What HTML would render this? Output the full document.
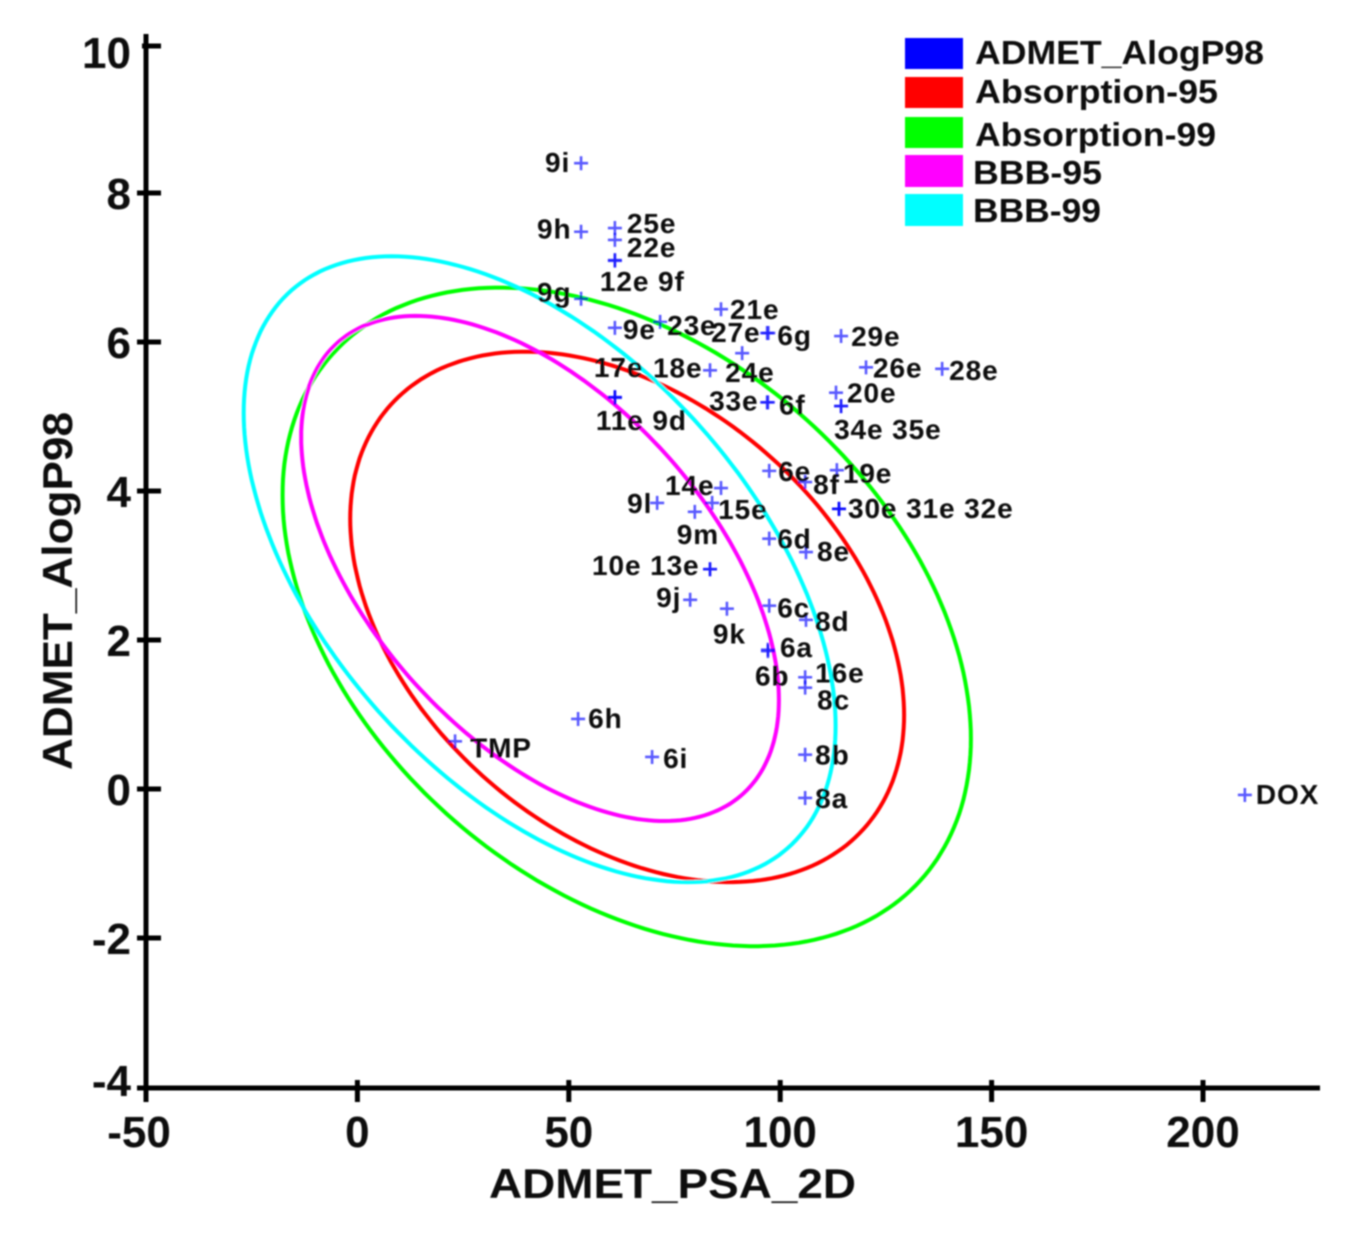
<!DOCTYPE html>
<html>
<head>
<meta charset="utf-8">
<title>ADMET plot</title>
<style>
html,body{margin:0;padding:0;background:#fff;}
svg{display:block;}
text{font-family:"Liberation Sans",Arial,sans-serif;font-weight:bold;fill:#0b0b0b;}
</style>
</head>
<body>
<svg id="chart" xmlns="http://www.w3.org/2000/svg" width="1363" height="1238" viewBox="0 0 1363 1238">
<defs><filter id="soft" x="-2%" y="-2%" width="104%" height="104%"><feGaussianBlur stdDeviation="0.9"/></filter></defs>
<rect width="1363" height="1238" fill="#ffffff"/>
<g id="root" filter="url(#soft)"></g>
</svg>
<script>
// ---- axis data
const xTicks = [-50, 0, 50, 100, 150, 200];
const yTicks = [10, 8, 6, 4, 2, 0, -2, -4];
const xTitle = "ADMET_PSA_2D";
const yTitle = "ADMET_AlogP98";

// ---- ellipse series (centre, half-extent, correlation in data units)
const ellipseNames = ["Absorption-95", "Absorption-99", "BBB-95", "BBB-99"];
const ellipseColors = ["#ff0000", "#00ff00", "#ff00ff", "#00ffff"];
const ellipseCenterPsa = [63.8, 63.7, 43.2, 43.1];
const ellipseCenterLogP = [2.31, 2.31, 2.96, 2.95];
const ellipseHalfPsa = [65.5, 81.4, 56.5, 70.0];
const ellipseHalfLogP = [3.56, 4.42, 3.39, 4.20];
const ellipseCorr = [-0.37, -0.37, -0.52, -0.50];

// ---- compounds
const compoundNames = ["9i","9h","25e","22e","12e","9f","9g","9e","23e","21e","27e","6g","24e","18e","17e","11e","9d","33e","6f","29e","26e","28e","20e","34e","35e","6e","8f","19e","30e","31e","32e","14e","15e","9l","9m","10e","13e","9j","9k","6d","8e","6c","8d","6a","6b","16e","8c","6h","TMP","6i","8b","8a","DOX"];
const psaValues = [52.9,52.9,60.9,60.9,60.9,60.9,52.9,60.9,71.6,86.0,96.9,97.2,91.0,83.4,60.9,60.9,60.9,96.9,97.1,114.4,120.3,138.3,113.2,114.4,114.4,97.4,105.9,113.4,113.9,113.9,113.9,86.0,83.9,70.9,79.8,83.4,83.4,78.7,87.4,97.4,106.1,97.4,106.1,97.1,97.1,105.9,105.9,52.2,23.1,69.7,105.9,105.9,209.9];
const alogpValues = [8.40,7.48,7.53,7.37,7.10,7.09,6.58,6.19,6.27,6.44,6.12,6.12,5.85,5.62,5.26,5.26,5.25,5.19,5.19,6.08,5.66,5.64,5.32,5.14,5.14,4.27,4.12,4.28,3.76,3.76,3.76,4.04,3.84,3.84,3.72,2.95,2.95,2.54,2.42,3.36,3.18,2.46,2.27,1.85,1.87,1.50,1.36,0.94,0.64,0.43,0.46,-0.12,-0.08];

// ---- printed labels: compound index that owns the label, and the text
const labelOwner = [0,1,2,3,4,6,7,8,9,10,11,12,13,14,15,17,18,19,20,21,22,23,25,26,27,28,31,32,33,34,35,37,38,39,40,41,42,43,44,45,46,47,48,49,50,51,52];
const labelText = ["9i","9h","25e","22e","12e 9f","9g","9e","23e","21e","27e","6g","24e","18e","17e","11e 9d","33e","6f","29e","26e","28e","20e","34e 35e","6e","8f","19e","30e 31e 32e","14e","15e","9l","9m","10e 13e","9j","9k","6d","8e","6c","8d","6a","6b","16e","8c","6h","TMP","6i","8b","8a","DOX"];
</script>
<script>
// ---- layout (not data)
const labelNudgeX = [-36,-44,12,12,-15,-44,8,7,9,-56,9,-17,-57,-21,-19,-58,11,10,7,7,11,-7,9,8,6,9,-56,6,-30,-18,-118,-34,-14,8,11,8,9,12,-13,10,12,10,15,11,10,10,11];
const labelNudgeY = [9,7,5,17,31,3,11,13,10,9,12,29,7,-20,33,8,12,10,10,11,10,33,10,12,13,9,7,16,10,32,6,7,35,10,9,12,11,6,36,5,22,9,16,11,10,10,9];
const legendNames = ["ADMET_AlogP98","Absorption-95","Absorption-99","BBB-95","BBB-99"];
const legendColors = ["#0000ff","#ff0000","#00ff00","#ff00ff","#00ffff"];
const legendBoxTop = [38,77,117,155,194];
const legendBoxH = [31,31,31,32,32];
const legendBaseline = [64,103,146,184,222];
const legendTextX = [975,975,975,973,973];
const legendTextW = [289,243,241,129,128];

const NS = "http://www.w3.org/2000/svg";
const root = document.getElementById("root");
function X(v){ return 357.4 + 4.228 * v; }
function Y(v){ return 789 - 74.5 * v; }
function make(tag, attrs, parent){
  const el = document.createElementNS(NS, tag);
  for (const k in attrs) el.setAttribute(k, attrs[k]);
  (parent || root).appendChild(el);
  return el;
}

// ellipses
ellipseNames.forEach(function(name, i){
  const pts = [];
  const rho = ellipseCorr[i];
  const root2 = Math.sqrt(1 - rho * rho);
  for (let a = 0; a < 240; a++){
    const t = a / 240 * 2 * Math.PI;
    const px = ellipseCenterPsa[i] + ellipseHalfPsa[i] * Math.cos(t);
    const py = ellipseCenterLogP[i] + ellipseHalfLogP[i] * (rho * Math.cos(t) + root2 * Math.sin(t));
    pts.push(X(px).toFixed(1) + "," + Y(py).toFixed(1));
  }
  const el = make("polygon", {points: pts.join(" "), fill: "none", stroke: ellipseColors[i], "stroke-width": 4});
  
  
});

// axes
const yAxis = make("line", {x1: X(-50), x2: X(-50), y1: 34, y2: 1102, stroke: "#000", "stroke-width": 5});


const xAxis = make("line", {x1: 138, x2: 1320, y1: Y(-4) + 1, y2: Y(-4) + 1, stroke: "#000", "stroke-width": 5});



xTicks.forEach(function(v){
  const t = make("line", {x1: X(v), x2: X(v), y1: 1080, y2: 1102, stroke: "#000", "stroke-width": 5});
  
  
  const l = make("text", {x: X(v) + (v < 0 ? -7 : 0), y: 1147, "text-anchor": "middle", "font-size": 44});
  
  
  l.textContent = v;
});
yTicks.forEach(function(v){
  const tickShift = v === 10 ? 2 : (v === -4 ? 1 : 0);
  const t = make("line", {x1: v === 10 ? 142 : 137, x2: 161, y1: Y(v) + tickShift, y2: Y(v) + tickShift, stroke: "#000", "stroke-width": 5});
  
  
  const labelShift = v === -4 ? 9 : (v === 10 ? 24 : 16);
  const l = make("text", {x: 131, y: Y(v) + labelShift, "text-anchor": "end", "font-size": 44});
  
  
  l.textContent = v;
});

const xt = make("text", {x: 489, y: 1198, "font-size": 42, textLength: 367, lengthAdjust: "spacingAndGlyphs"});


xt.textContent = xTitle;
const yt = make("text", {x: 0, y: 0, "font-size": 42, textLength: 358, lengthAdjust: "spacingAndGlyphs", transform: "translate(72,770) rotate(-90)"});


yt.textContent = yTitle;

// markers
compoundNames.forEach(function(name, i){
  const cx = X(psaValues[i]), cy = Y(alogpValues[i]);
  const m = make("path", {d: "M" + (cx - 7) + " " + cy + "H" + (cx + 7) + "M" + cx + " " + (cy - 7) + "V" + (cy + 7), stroke: "#0000ff", "stroke-width": 2.6, "stroke-opacity": 0.65, fill: "none"});
  
  
});

// labels
labelText.forEach(function(txt, i){
  const o = labelOwner[i];
  const l = make("text", {x: X(psaValues[o]) + labelNudgeX[i], y: Y(alogpValues[o]) + labelNudgeY[i], "font-size": 28, "letter-spacing": 0.9});
  
  
  l.textContent = txt;
});

// legend
legendNames.forEach(function(name, i){
  const g = make("g", {});
  
  
  const r = make("rect", {x: 905, y: legendBoxTop[i], width: 58, height: legendBoxH[i], fill: legendColors[i]}, g);
  
  
  const t = make("text", {x: legendTextX[i], y: legendBaseline[i], "font-size": 33, textLength: legendTextW[i], lengthAdjust: "spacingAndGlyphs"}, g);
  
  
  t.textContent = name;
});
</script>
</body>
</html>
